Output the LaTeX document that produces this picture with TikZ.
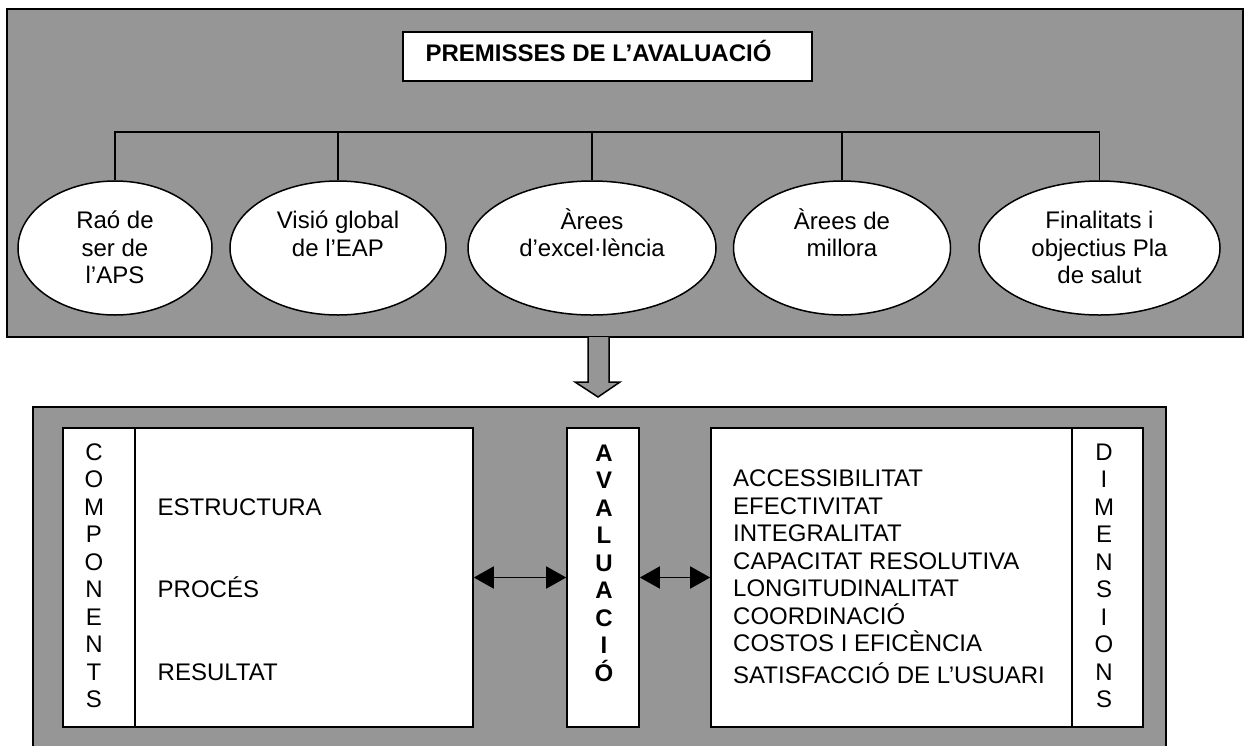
\documentclass[tikz,border=0pt]{standalone}
\usepackage{fontspec}
\setmainfont{Liberation Sans}
\usetikzlibrary{arrows.meta,shapes.geometric}
\definecolor{boxgray}{RGB}{150,150,150}
\begin{document}
\begin{tikzpicture}[x=1pt,y=-1pt,
  panel/.style={draw=black, line width=2pt, fill=boxgray, inner sep=0pt},
  wbox/.style={draw=black, line width=1.6pt, fill=white, inner sep=0pt, minimum height=299pt},
  ell/.style={ellipse, draw=black, line width=1.5pt, fill=white, inner sep=0pt, minimum height=134pt},
  txt/.style={inner sep=0pt, font=\fontsize{24}{27.5}\selectfont},
  ctxt/.style={txt, align=center},
  link/.style={line width=1.5pt},
  dbl/.style={line width=1.6pt, {Triangle[length=20pt,width=22pt]}-{Triangle[length=20pt,width=22pt]}},
]
\useasboundingbox (0,0) rectangle (1249,745);
\clip (0,0) rectangle (1249,745);

% ---------- top panel ----------
\node[panel, minimum width=1236pt, minimum height=328pt] (top) at (625,173) {};
\node[draw=black, line width=1.6pt, fill=white, inner sep=0pt, minimum width=409pt, minimum height=49pt] (titlebox) at (607.5,56.5) {};
\node[txt, anchor=base, font=\fontsize{24}{27.5}\selectfont\bfseries] (title) at (598.5,61.5) {PREMISSES DE L’AVALUACIÓ};

\coordinate (hub) at (592,132);

\node[ell, minimum width=194pt] (e1) at (115,248) {};
\node[ell, minimum width=216pt] (e2) at (338,248) {};
\node[ell, minimum width=248pt] (e3) at (592,248) {};
\node[ell, minimum width=217pt] (e4) at (842,248) {};
\node[ell, minimum width=241pt] (e5) at (1099.5,248) {};

\foreach \e in {e1,e2,e3,e4,e5} \draw[link] (hub) -| (\e.north);

\node[ctxt] (t1) at ([yshift=-2.5pt]e1.center) {\strut Raó de\\ser de\\l’APS\strut};
\node[ctxt] (t2) at ([yshift=-2.5pt]e2.center) {\strut Visió global\\de l’EAP\\\strut};
\node[ctxt] (t3) at ([yshift=-2.5pt]e3.center) {\strut Àrees\\d’excel·lència\\\strut};
\node[ctxt] (t4) at ([yshift=-2.5pt]e4.center) {\strut Àrees de\\millora\\\strut};
\node[ctxt] (t5) at ([yshift=-2.5pt]e5.center) {\strut Finalitats i\\objectius Pla\\de salut\strut};

% ---------- block arrow ----------
\filldraw[fill=boxgray, draw=black, line width=1.5pt, line join=miter]
  (588,337) -- (588,382) -- (575,382) -- (598,397) -- (620,382) -- (609,382) -- (609,337);

% ---------- bottom panel ----------
\node[panel, minimum width=1133pt, minimum height=353pt] (bottom) at (599.5,583.5) {};

\node[wbox, minimum width=72pt]  (compcol)  at (99,577.5) {};
\node[wbox, minimum width=338pt] (complist) at (304,577.5) {};
\node[wbox, minimum width=72pt]  (avalbox)  at (603,577.5) {};
\node[wbox, minimum width=361pt] (dimlist)  at (891.5,577.5) {};
\node[wbox, minimum width=71pt]  (dimcol)   at (1107.5,577.5) {};

\draw[dbl] (complist.east) -- (avalbox.west);
\draw[dbl] (avalbox.east) -- (dimlist.west);

\node[ctxt] (comp) at (94,578.6) {\strut C\\O\\M\\P\\O\\N\\E\\N\\T\\S\strut};
\node[ctxt, font=\fontsize{24}{27.5}\selectfont\bfseries] (aval) at (604,565.9) {\strut A\\V\\A\\L\\U\\A\\C\\I\\Ó\strut};
\node[ctxt] (dim) at (1104,578.6) {\strut D\\I\\M\\E\\N\\S\\I\\O\\N\\S\strut};

\node[txt, anchor=base west] (c1) at (157.5,515.4) {ESTRUCTURA};
\node[txt, anchor=base west] (c2) at (157.5,597.9) {PROCÉS};
\node[txt, anchor=base west] (c3) at (157.5,680.4) {RESULTAT};

\node[txt, anchor=base west] (d1) at (733,486.9) {ACCESSIBILITAT};
\node[txt, anchor=base west] (d2) at (733,514.4) {EFECTIVITAT};
\node[txt, anchor=base west] (d3) at (733,541.9) {INTEGRALITAT};
\node[txt, anchor=base west] (d4) at (733,569.4) {CAPACITAT RESOLUTIVA};
\node[txt, anchor=base west] (d5) at (733,596.9) {LONGITUDINALITAT};
\node[txt, anchor=base west] (d6) at (733,624.4) {COORDINACIÓ};
\node[txt, anchor=base west] (d7) at (733,651.9) {COSTOS I EFICÈNCIA};
\node[txt, anchor=base west] (d8) at (733,683.4) {SATISFACCIÓ DE L’USUARI};
\end{tikzpicture}
\end{document}
